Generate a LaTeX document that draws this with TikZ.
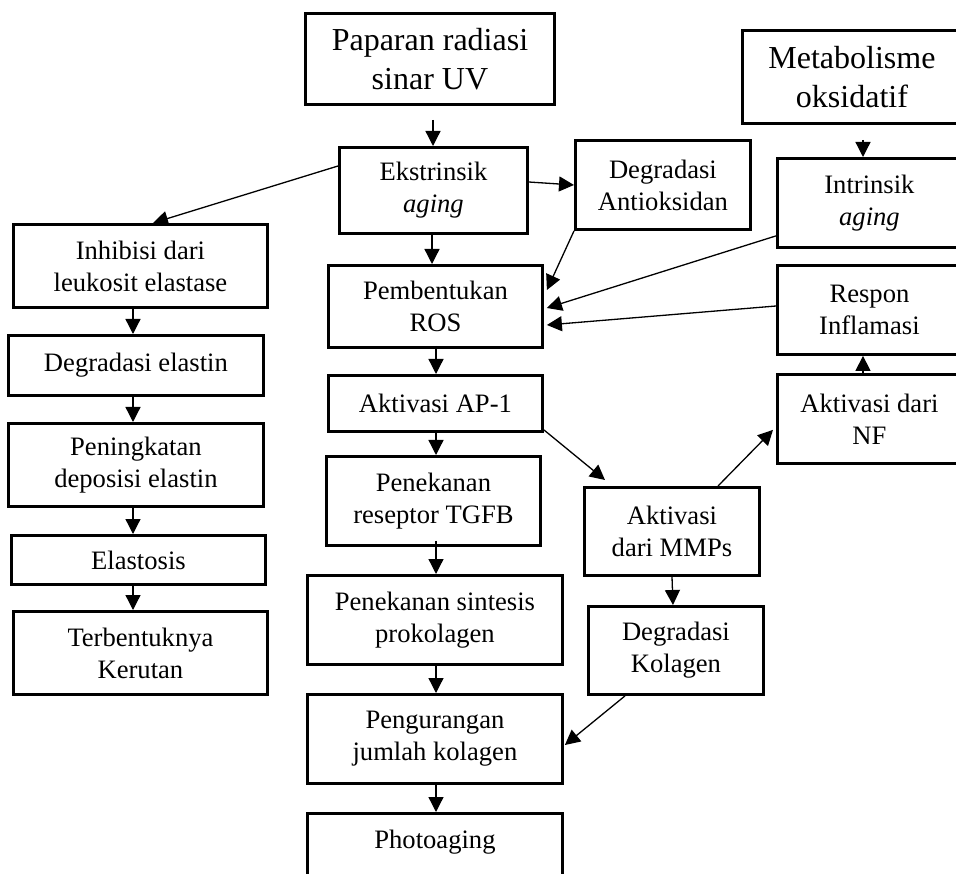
\documentclass[tikz,border=0pt]{standalone}
\usepackage{fontspec}
\setmainfont{Liberation Serif}
\usetikzlibrary{arrows.meta,calc}
\begin{document}
\begin{tikzpicture}[x=1pt,y=-1pt,
  box/.style={draw, line width=2.9pt, inner sep=0pt, anchor=north west, align=center,
    font=\fontsize{26.6}{32}\selectfont},
  bigbox/.style={box, font=\fontsize{32}{39}\selectfont},
  arr/.style={line width=1.3pt, -{Triangle[length=15pt,width=15pt]}}]
\useasboundingbox (0,0) rectangle (956,874);
\clip (0,0) rectangle (956,874);
\fill[white] (0,0) rectangle (956,874);
% nodes
\node[bigbox, minimum width=249pt, minimum height=91pt] (pap) at (304,12) {Paparan radiasi\\sinar UV};
\node[bigbox, minimum width=219pt, minimum height=93pt] (meta) at (741,29) {Metabolisme\\oksidatif};
\node[box, minimum width=188pt, minimum height=86pt] (ekst) at (338,146) {Ekstrinsik\\\textit{aging}};
\node[box, minimum width=175pt, minimum height=89pt] (anti) at (574,139) {Degradasi\\Antioksidan};
\node[box, minimum width=184pt, minimum height=89pt] (intr) at (776,157) {Intrinsik\\\textit{aging}};
\node[box, minimum width=214pt, minimum height=82pt] (ros) at (327,264) {Pembentukan\\ROS};
\node[box, minimum width=184pt, minimum height=89pt] (resp) at (776,264) {Respon\\Inflamasi};
\node[box, minimum width=214pt, minimum height=56pt] (ap1) at (327,374) {Aktivasi AP-1};
\node[box, minimum width=184pt, minimum height=89pt] (nf) at (776,373) {Aktivasi dari\\NF};
\node[box, minimum width=254pt, minimum height=83pt] (inhib) at (12,223) {Inhibisi dari\\leukosit elastase};
\node[box, minimum width=255pt, minimum height=60pt] (delas) at (7,334) {Degradasi elastin};
\node[box, minimum width=255pt, minimum height=83pt] (pening) at (7,422) {Peningkatan\\deposisi elastin};
\node[box, minimum width=254pt, minimum height=49pt] (elast) at (10,534) {Elastosis};
\node[box, minimum width=254pt, minimum height=83pt] (kerut) at (12,610) {Terbentuknya\\Kerutan};
\node[box, minimum width=214pt, minimum height=89pt] (tgfb) at (325,455) {Penekanan\\reseptor TGFB};
\node[box, minimum width=255pt, minimum height=89pt] (sint) at (306,574) {Penekanan sintesis\\prokolagen};
\node[box, minimum width=255pt, minimum height=89pt] (kurang) at (306,693) {Pengurangan\\jumlah kolagen};
\node[box, minimum width=255pt, minimum height=89pt] (photo) at (306,812) {};
\node[font=\fontsize{26.6}{32}\selectfont, inner sep=0pt] (phototxt) at ($(photo.north)+(0,30)$) {Photoaging};
\node[box, minimum width=175pt, minimum height=88pt] (mmp) at (583,486) {Aktivasi\\dari MMPs};
\node[box, minimum width=175pt, minimum height=88pt] (kolag) at (587,605) {Degradasi\\Kolagen};
% connectors
\draw[arr] ($(pap.south west)+(129,14)$) -- ($(ekst.north west)+(95,0)$);
\draw[arr] ($(meta.south west)+(122,15)$) -- ($(intr.north west)+(87,0)$);
\draw[arr] ($(ekst.north east)+(0,36)$) -- ($(anti.north west)+(0,46)$);
\draw[arr] ($(ekst.north west)+(0,20)$) -- ($(inhib.north west)+(141,0)$);
\draw[arr] ($(ekst.south west)+(94,0)$) -- ($(ros.north west)+(105,0)$);
\draw[arr] (anti.south west) -- ($(ros.north east)+(3,26)$);
\draw[arr] ($(intr.south west)+(0,-13)$) -- ($(ros.north east)+(3,44)$);
\draw[arr] ($(resp.north west)+(0,42)$) -- ($(ros.north east)+(3,61)$);
\draw[arr] ($(ros.south west)+(109,-3)$) -- ($(ap1.north west)+(109,0)$);
\draw[arr] ($(ap1.south west)+(109,0)$) -- ($(tgfb.north west)+(111,0)$);
\draw[arr] ($(tgfb.south west)+(111,-6)$) -- ($(sint.north west)+(130,0)$);
\draw[arr] ($(sint.south west)+(130,0)$) -- ($(kurang.north west)+(130,0)$);
\draw[arr] ($(kurang.south west)+(130,-2)$) -- ($(photo.north west)+(130,0)$);
\draw[arr] ($(ap1.south east)+(0,-3)$) -- ($(mmp.north west)+(22,-6)$);
\draw[arr] ($(mmp.north west)+(135,0)$) -- ($(nf.south west)+(-3,-35)$);
\draw[arr] ($(nf.north west)+(87,3)$) -- ($(resp.south west)+(87,0)$);
\draw[arr] ($(mmp.south west)+(89,0)$) -- ($(kolag.north west)+(86,0)$);
\draw[arr] ($(kolag.south west)+(38,0)$) -- ($(kurang.north east)+(1,52)$);
\draw[arr] ($(inhib.south west)+(121,0)$) -- ($(delas.north west)+(126,0)$);
\draw[arr] ($(delas.south west)+(126,0)$) -- ($(pening.north west)+(126,0)$);
\draw[arr] ($(pening.south west)+(126,0)$) -- ($(elast.north west)+(123,0)$);
\draw[arr] ($(elast.south west)+(123,0)$) -- ($(kerut.north west)+(121,0)$);
\end{tikzpicture}
\end{document}
